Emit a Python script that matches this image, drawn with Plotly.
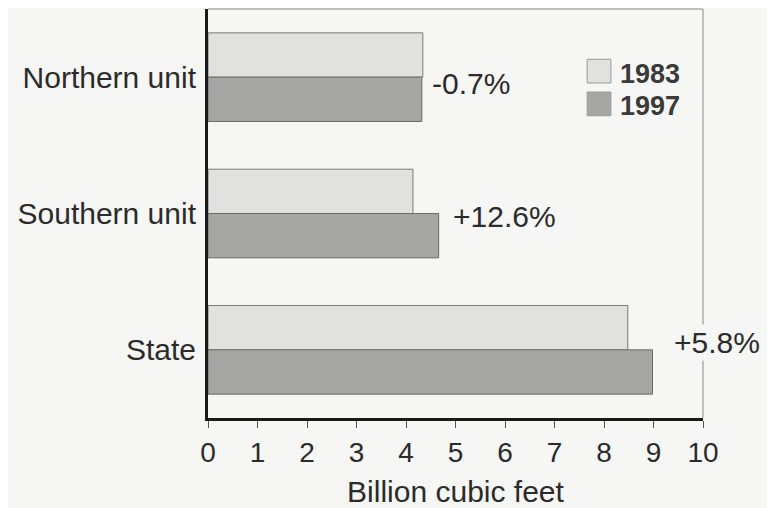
import plotly.graph_objects as go

# data (billion cubic feet)
units = ["Northern unit", "Southern unit", "State"]
vol_1983 = [4.34, 4.14, 8.48]
vol_1997 = [4.32, 4.66, 8.98]
change_labels = ["-0.7%", "+12.6%", "+5.8%"]
years = ["1983", "1997"]

BG = "#f6f6f4"
INK = "#2b2b2b"
FILL = {"1983": "#e1e1e0", "1997": "#a6a6a5"}
EDGE = {"1983": "#7a7a7a", "1997": "#6a6a6a"}
FONT = "Liberation Sans, Arial, sans-serif"
X_MAX = 10

fig = go.Figure()
for yr, vals in zip(years, [vol_1983, vol_1997]):
    fig.add_trace(
        go.Bar(
            y=units,
            x=vals,
            orientation="h",
            name=yr,
            marker=dict(color=FILL[yr], line=dict(color=EDGE[yr], width=1)),
            showlegend=False,
        )
    )

# change labels next to each group (paper x so the State one can sit past 10)
label_x = [5.31, 5.98, 10.28]
label_shift = [-6, -3, 7]
for unit, txt, lx, dy in zip(units, change_labels, label_x, label_shift):
    fig.add_annotation(
        xref="paper", x=lx / X_MAX, y=unit, yshift=dy,
        text=txt, showarrow=False, xanchor="center",
        font=dict(family=FONT, size=30, color=INK),
        bgcolor=BG,
    )

# hand-drawn legend with large swatches
leg_y = [0.848, 0.768]
for yr, ly in zip(years, leg_y):
    fig.add_shape(
        type="rect", xref="paper", yref="paper",
        x0=0.766, x1=0.814, y0=ly - 0.029, y1=ly + 0.029,
        fillcolor=FILL[yr], line=dict(color="#9a9a9a", width=1),
    )
    fig.add_annotation(
        xref="paper", yref="paper", x=0.828, y=ly - 0.006, text=f"<b>{yr}</b>",
        showarrow=False, xanchor="left", yanchor="middle",
        font=dict(family=FONT, size=27, color="#3a3a3a"),
    )

# thin frame on top and right
fig.add_shape(type="line", xref="paper", yref="paper", x0=0, x1=1, y0=1, y1=1,
              line=dict(color="#8a8a8a", width=1), layer="below")
fig.add_shape(type="line", xref="paper", yref="paper", x0=1, x1=1, y0=0, y1=1,
              line=dict(color="#8a8a8a", width=1), layer="below")

# page body adds an 8px margin, so the figure is sized to fill what is left
fig.update_layout(
    width=767,
    height=500,
    margin=dict(l=200, r=72, t=1, b=90),
    paper_bgcolor=BG,
    plot_bgcolor=BG,
    barmode="group",
    bargap=0.35,
    bargroupgap=0,
    font=dict(family=FONT, color=INK),
    xaxis=dict(
        range=[0, X_MAX],
        dtick=1,
        showgrid=False,
        zeroline=False,
        showline=True,
        linecolor="#1a1a1a",
        linewidth=3,
        ticks="outside",
        ticklen=7,
        tickcolor="#555",
        tickfont=dict(size=28, color=INK),
        title=dict(text="Billion cubic feet", font=dict(size=30, color=INK), standoff=17),
    ),
    yaxis=dict(
        autorange="reversed",
        showgrid=False,
        zeroline=False,
        showline=True,
        linecolor="#1a1a1a",
        linewidth=3,
        ticks="",
        ticklabelstandoff=3,
        tickfont=dict(size=30, color=INK),
    ),
)

fig.write_html("out.html")
